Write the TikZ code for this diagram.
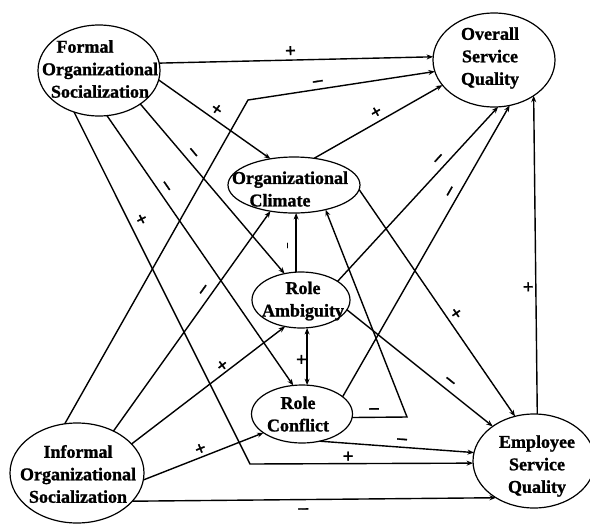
\documentclass[tikz,border=0pt]{standalone}
\usepackage{fontspec}
\setmainfont{Liberation Serif}[BoldFeatures={FakeBold=1.2}]
\usetikzlibrary{shapes.geometric,arrows.meta}
\begin{document}
\begin{tikzpicture}[x=1pt,y=-1pt,
  ell/.style={draw, ellipse, line width=1.2pt, inner sep=0pt, outer sep=0pt},
  txt/.style={align=center, font=\fontsize{18}{22.5}\selectfont\bfseries, inner sep=0pt},
  conn/.style={line width=1.4pt, -{Stealth[length=6.5pt,width=5pt]}},
  dconn/.style={line width=1.4pt, {Stealth[length=6.5pt,width=5pt]}-{Stealth[length=6.5pt,width=5pt]}},
  lab/.style={sloped, font=\fontsize{19}{19}\selectfont\bfseries, inner sep=0.5pt},
  tick/.style={sloped, font=\fontsize{10}{10}\selectfont\bfseries, inner sep=0.5pt},
]
\useasboundingbox (0,0) rectangle (590,523);
\fill[white] (0,0) rectangle (590,523);

% ellipses
\node[ell, minimum width=122pt, minimum height=91pt]  (F) at (99,70.5) {};
\node[ell, minimum width=122pt, minimum height=94pt]  (O) at (494,60) {};
\node[ell, minimum width=132pt, minimum height=56pt]  (C) at (294,185) {};
\node[ell, minimum width=98pt,  minimum height=56pt]  (A) at (301,300) {};
\node[ell, minimum width=101pt, minimum height=58pt]  (R) at (302,414) {};
\node[ell, minimum width=134pt, minimum height=100pt] (I) at (77,473) {};
\node[ell, minimum width=122pt, minimum height=94pt]  (E) at (534,461) {};

% texts
\node[txt] (Ft) at (100,69)  {Formal\hspace*{30pt}\\Organizational\\Socialization};
\node[txt] (Ot) at (490,58)  {Overall\\Service\\Quality};
\node[txt] (Ct) at (290,189) {Organizational\\Climate\hspace*{20pt}};
\node[txt] (At) at (303,301) {Role\\Ambiguity};
\node[txt] (Rt) at (298,414) {Role\\Conflict};
\node[txt] (It) at (78,474)  {Informal\\Organizational\\Socialization};
\node[txt] (Et) at (537,466) {Employee\\Service\\Quality};

% corner points
\coordinate (c1) at (248,100);
\coordinate (c2) at (250,464);
\coordinate (c3) at (407,417);

% connectors
\draw[conn] (F.7) -- node[lab, above=2pt, pos=.48]{+} (O.177);
\draw[conn] (I.104) -- (c1) -- node[lab, above=2.3pt, pos=.38]{–} (O.191);
\draw[conn] (F.-9) -- node[lab, above=2.3pt, pos=.47]{+} (C.132);
\draw[conn] (F.-39) -- node[lab, above=3.8pt, pos=.32]{–} (A.122);
\draw[conn] (F.-80) -- node[lab, above=3.8pt, pos=.28]{–} (R.107);
\draw[conn] (F.-121) -- node[lab, above=5pt, pos=.32]{+} (c2) -- node[lab, above=0pt, pos=.44]{+} (E.182);
\draw[conn] (I.49) -- node[lab, above=3.8pt, pos=.62]{–} (C.-132);
\draw[conn] (I.28) -- node[lab, above=0pt, pos=.62]{+} (A.-121);
\draw[conn] (I.-6) -- node[lab, above=1pt, pos=.5]{+} (R.-154);
\draw[conn] (I.-27) -- node[lab, below=7.5pt, pos=.47]{–} (E.-136);
\draw[conn] (C.53) -- node[lab, above=2.3pt, pos=.52]{+} (O.-154);
\draw[conn] (C.-4) -- node[lab, above=2.5pt, pos=.57]{+} (E.113);
\draw[conn] (A.100) -- node[tick, above=5pt, pos=.45]{–} (A.100 |- C.south);
\draw[dconn] (R.80 |- A.south) -- node[lab, below=0pt, pos=.55]{+} (R.80);
\draw[conn] (R.-4) -- node[lab, above=2.8pt, pos=.4]{–} (c3) -- (C.-38);
\draw[conn] (A.27) -- node[lab, above=3.8pt, pos=.67]{–} (O.-85);
\draw[conn] (R.23) -- node[lab, above=3.8pt, pos=.69]{–} (O.-71);
\draw[conn] (A.-12) -- node[lab, above=3.8pt, pos=.67]{–} (E.140);
\draw[conn] (R.-57) -- node[lab, above=2.3pt, pos=.53]{–} (E.172);
\draw[conn] (E.86) -- node[lab, below=2pt, pos=.4]{+} (O.-42);
\end{tikzpicture}
\end{document}
